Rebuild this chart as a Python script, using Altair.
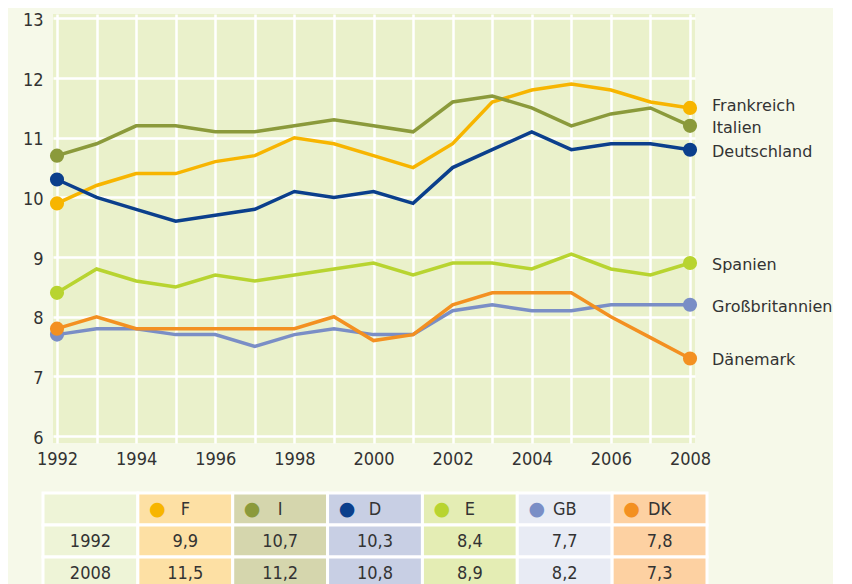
import altair as alt
import pandas as pd

# ---- data ----
years = list(range(1992, 2009))
label_years = [1992, 1994, 1996, 1998, 2000, 2002, 2004, 2006, 2008]
y_ticks = [6, 7, 8, 9, 10, 11, 12, 13]

series_codes = ["F", "I", "D", "E", "GB", "DK"]
series_names = ["Frankreich", "Italien", "Deutschland", "Spanien", "Großbritannien", "Dänemark"]
series_colors = ["#f7b500", "#8b9a3b", "#0b3f8c", "#b8d430", "#7a8ec6", "#f39021"]

val_F = [9.9, 10.2, 10.4, 10.4, 10.6, 10.7, 11.0, 10.9, 10.7, 10.5, 10.9, 11.6, 11.8, 11.9, 11.8, 11.6, 11.5]
val_I = [10.7, 10.9, 11.2, 11.2, 11.1, 11.1, 11.2, 11.3, 11.2, 11.1, 11.6, 11.7, 11.5, 11.2, 11.4, 11.5, 11.2]
val_D = [10.3, 10.0, 9.8, 9.6, 9.7, 9.8, 10.1, 10.0, 10.1, 9.9, 10.5, 10.8, 11.1, 10.8, 10.9, 10.9, 10.8]
val_E = [8.4, 8.8, 8.6, 8.5, 8.7, 8.6, 8.7, 8.8, 8.9, 8.7, 8.9, 8.9, 8.8, 9.05, 8.8, 8.7, 8.9]
val_GB = [7.7, 7.8, 7.8, 7.7, 7.7, 7.5, 7.7, 7.8, 7.7, 7.7, 8.1, 8.2, 8.1, 8.1, 8.2, 8.2, 8.2]
val_DK = [7.8, 8.0, 7.8, 7.8, 7.8, 7.8, 7.8, 8.0, 7.6, 7.7, 8.2, 8.4, 8.4, 8.4, 8.0, 7.65, 7.3]

table_cols = ["Jahr", "F", "I", "D", "E", "GB", "DK"]
table_rows = ["head", "1992", "2008"]
table_fills = ["#eef4d7", "#fde0a4", "#d5d6ad", "#c8cfe4", "#e4edb4", "#e8ebf4", "#fdd1a2"]
table_1992 = ["9,9", "10,7", "10,3", "8,4", "7,7", "7,8"]
table_2008 = ["11,5", "11,2", "10,8", "8,9", "8,2", "7,3"]

FONT = "DejaVu Sans Condensed"
LABEL_FONT = "DejaVu Sans"
TXT = "#333333"

# ---- build tables ----
all_vals = [val_F, val_I, val_D, val_E, val_GB, val_DK]
recs = []
for code, name, vals in zip(series_codes, series_names, all_vals):
    for yr, v in zip(years, vals):
        recs.append({"code": code, "name": name, "year": yr, "value": v})
df = pd.DataFrame(recs)
ends = df[df["year"].isin([years[0], years[-1]])]
last = df[df["year"] == years[-1]]

color_scale = alt.Scale(domain=series_codes, range=series_colors)

x_enc = alt.X(
    "year:Q",
    scale=alt.Scale(domain=[1991.899, 2008.126], nice=False, zero=False),
    axis=alt.Axis(
        values=years, format="d",
        labelExpr="indexof([" + ",".join(str(v) for v in label_years) + "], datum.value) >= 0 ? datum.label : ''",
        grid=True, gridColor="white", gridWidth=2.5, ticks=False, domain=False,
        labelPadding=7, labelFontSize=18, labelOverlap=False, labelFlush=False,
        minExtent=30, maxExtent=30, title=None,
    ),
)
y_enc = alt.Y(
    "value:Q",
    scale=alt.Scale(domain=[5.883, 13.075], nice=False, zero=False),
    axis=alt.Axis(
        values=y_ticks, format="d", grid=True, gridColor="white", gridWidth=2.5, ticks=False, domain=False,
        labelPadding=10, labelFontSize=18, labelFlush=False, labelOffset=2,
        minExtent=45, maxExtent=45, title=None,
    ),
)

base = alt.Chart(df).encode(x=x_enc, y=y_enc)
lines = base.mark_line(strokeWidth=3.5).encode(
    color=alt.Color("code:N", scale=color_scale, legend=None),
    detail="code:N",
)
dots = alt.Chart(ends).mark_circle(size=200, opacity=1).encode(
    x=alt.X("year:Q"), y=alt.Y("value:Q"),
    color=alt.Color("code:N", scale=color_scale, legend=None),
)
lab_common = dict(align="left", baseline="middle", dx=22, fontSize=16, font=LABEL_FONT, color=TXT)
labels_top = alt.Chart(last).transform_filter(alt.datum.code == "F").mark_text(dy=-2, **lab_common).encode(
    x=alt.X("year:Q"), y=alt.Y("value:Q"), text="name:N",
)
labels_rest = alt.Chart(last).transform_filter(alt.datum.code != "F").mark_text(dy=2, **lab_common).encode(
    x=alt.X("year:Q"), y=alt.Y("value:Q"), text="name:N",
)
plot = alt.layer(lines, dots, labels_top, labels_rest).properties(width=642, height=429)

# ---- table ----
trecs = []
for i, c in enumerate(table_cols):
    trecs.append({"col": c, "row": "head", "txt": "" if i == 0 else c, "dot": "" if i == 0 else "●"})
    trecs.append({"col": c, "row": "1992", "txt": "1992" if i == 0 else table_1992[i - 1], "dot": ""})
    trecs.append({"col": c, "row": "2008", "txt": "2008" if i == 0 else table_2008[i - 1], "dot": ""})
tdf = pd.DataFrame(trecs)

tx = alt.X("col:N", sort=table_cols, scale=alt.Scale(domain=table_cols, range=[-10, 654], paddingInner=0, paddingOuter=0), axis=None)
ty = alt.Y("row:N", sort=table_rows, scale=alt.Scale(domain=table_rows, paddingInner=0, paddingOuter=0), axis=None)

tbase = alt.Chart(tdf).encode(x=tx, y=ty)
cells = tbase.mark_rect(stroke="white", strokeWidth=3).encode(
    fill=alt.Fill("col:N", scale=alt.Scale(domain=table_cols, range=table_fills), legend=None)
)
ttext = tbase.mark_text(fontSize=18, font=FONT, color=TXT, baseline="middle", dy=1).encode(text="txt:N")
tdots = alt.Chart(tdf[tdf["dot"] != ""]).mark_text(fontSize=19, font="DejaVu Sans", baseline="middle", dx=-28).encode(
    x=tx, y=ty, text="dot:N",
    color=alt.Color("col:N", scale=color_scale, legend=None),
)
table = alt.layer(cells, ttext, tdots).properties(width=644, height=96)

chart = alt.vconcat(plot, table, spacing=18).properties(
    background="#f6f9e9", padding={"top": 3, "left": 0, "right": 0, "bottom": 0},
).configure_view(stroke=None, fill="#eaf1cb").configure_axis(
    labelFont=FONT, labelColor=TXT,
).configure_concat(spacing=18)

chart.save("out.html", embed_options={"renderer": "svg", "actions": False})
